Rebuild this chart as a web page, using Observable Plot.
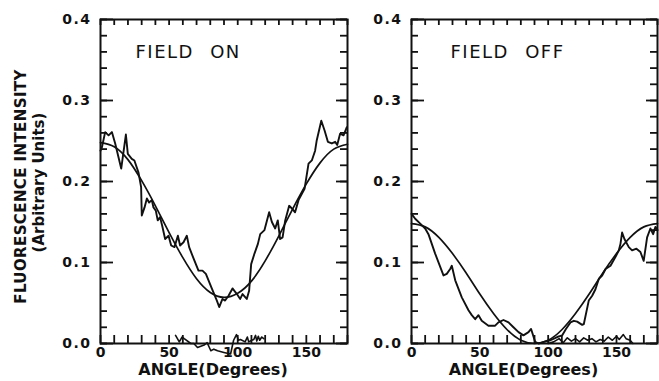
<!DOCTYPE html>
<html><head><meta charset="utf-8">
<script src="https://cdn.jsdelivr.net/npm/d3@7"></script>
<script src="https://cdn.jsdelivr.net/npm/@observablehq/plot@0.6"></script>
<style>
body{margin:0;background:#fff;}
#wrap{display:flex;width:659px;height:381px;overflow:hidden;}
</style></head><body><div id="wrap"></div>
<script>
// ---- data ----
const panelTitles = ["FIELD ON", "FIELD OFF"];
const xLabelTicks = [0, 50, 100, 150];
const yLabelTicks = [0, 0.1, 0.2, 0.3, 0.4];
const xMinorTicks = d3.range(0, 181, 10);
const yMinorTicks = d3.range(0, 0.401, 0.02);
const yMajorTicks = [0, 0.1, 0.2, 0.3, 0.4];

// FIELD ON : measured (noisy) trace
const onAngle = [0,1,3.4,5.9,8.3,10.7,15.1,18.5,19.9,22.8,24.7,27.7,29.6,30.1,32.1,33.8,35.4,37.4,38.6,40.3,41.7,43.4,45,47.1,49.6,51.5,53.9,56.4,58,60.5,62.9,64.6,67.8,71.4,74.3,76.8,81.1,84.8,86.5,88.9,90.8,93.3,96.2,99.4,101.8,103.5,106.6,108.3,109.8,112.2,114.7,116.4,119.5,122.9,124.9,127.3,129.2,130.9,132.7,134.6,137.5,139.9,141.8,144.3,148.7,151.6,154,156.4,157.6,160.9,163.3,165.7,168.6,171,172.5,174.6,177.1,179.5];
const onValue = [0.238,0.242,0.261,0.257,0.261,0.247,0.216,0.258,0.234,0.228,0.226,0.211,0.193,0.158,0.168,0.179,0.174,0.177,0.168,0.164,0.152,0.156,0.145,0.129,0.133,0.121,0.119,0.133,0.121,0.125,0.133,0.119,0.105,0.090,0.090,0.086,0.068,0.053,0.045,0.055,0.053,0.059,0.068,0.061,0.055,0.061,0.055,0.065,0.098,0.111,0.123,0.135,0.140,0.162,0.150,0.142,0.152,0.129,0.131,0.152,0.170,0.166,0.162,0.177,0.191,0.222,0.226,0.238,0.251,0.275,0.263,0.249,0.247,0.249,0.245,0.259,0.257,0.267];
// FIELD ON : fitted curve (every 10 degrees)
const fitAngle = d3.range(0, 181, 10);
const onFit = [0.248,0.243,0.227,0.201,0.170,0.137,0.106,0.080,0.063,0.057,0.062,0.077,0.102,0.133,0.166,0.197,0.223,0.240,0.246];
// FIELD ON : low baseline trace
const onLowAngle = [54.7,57.4,59.5,61,65.8,68,70.7,75.5,77.7,80.4,82.6,85.3,89.9,94.8,97,99.1,100.5,102,105.4,107,108,110.2,111.7,113,113.9,115,116,117.5,119];
const onLowValue = [0.010,0.002,0.008,0.006,0.000,0.000,-0.005,-0.002,0.001,-0.009,-0.007,-0.009,-0.011,-0.013,0.004,0.011,0.004,0.005,0.002,0.008,0.002,0.004,0.005,0.010,0.003,0.009,0.004,0.008,0.006];

// FIELD OFF : measured (noisy) trace
const offAngle = [0,2.7,6.4,10,12.4,17.3,23.4,25.8,28.3,29.5,32,36.8,41.7,44.1,46.6,49,51.4,56.3,61.2,63.6,67.3,71,74.6,78.3,81.9,85.6,87.5,90.5,93,96.8,101.7,106.6,110.2,113,116.3,118.8,121.2,124.9,126.1,129.7,132.2,134.6,137.1,139.5,142,145.6,149.3,151.7,152.9,154.1,155.8,159,161.4,164.6,167.5,169.9,172.4,174.8,176.8,178.5,180];
const offValue = [0.160,0.154,0.148,0.142,0.135,0.111,0.084,0.086,0.092,0.096,0.078,0.057,0.041,0.035,0.030,0.035,0.028,0.022,0.022,0.026,0.029,0.026,0.020,0.014,0.010,0.014,0.018,0.002,0.000,0.002,0.004,0.008,0.010,0.018,0.026,0.028,0.027,0.023,0.024,0.053,0.059,0.067,0.080,0.084,0.092,0.096,0.107,0.115,0.123,0.137,0.129,0.119,0.115,0.117,0.113,0.102,0.131,0.142,0.135,0.144,0.140];
// FIELD OFF : fitted curve
const offFit = [0.148,0.144,0.131,0.111,0.087,0.061,0.037,0.017,0.004,0.000,0.004,0.017,0.037,0.061,0.087,0.111,0.131,0.144,0.148];
// FIELD OFF : low baseline trace
const offLowAngle = [100,104,108,111,114,117,120,123,126,129,132,135,138,141,144,147,150,152,155,157,160,162];
const offLowValue = [0.000,0.002,0.006,0.001,0.007,0.003,0.006,0.002,0.007,0.004,0.006,0.002,0.005,0.003,0.008,0.004,0.009,0.005,0.011,0.006,0.004,0.000];

const yTitle = "FLUORESCENCE INTENSITY";
const ySubTitle = "(Arbitrary Units)";
const xTitle = "ANGLE(Degrees)";

// ---- drawing ----
const ink = "#111";
const FONT = "DejaVu Sans";
const H = 381, MT = 19, MB = 38;

function toRows(xs, ys) { return xs.map((x, i) => ({x, y: ys[i]})); }

function panel({width, marginLeft, marginRight, title, titleDx, noisy, fit, low, withYTitle}) {
  const pw = width - marginLeft - marginRight;
  const ph = H - MT - MB;
  const marks = [
    Plot.frame({stroke: ink, strokeWidth: 2}),
    // inward ticks on all sides
    Plot.tickX(xMinorTicks, {x: d => d, insetTop: ph - 8, stroke: ink, strokeWidth: 1.8}),
    Plot.tickX(xMinorTicks, {x: d => d, insetBottom: ph - 6, stroke: ink, strokeWidth: 1.8}),
    Plot.tickY(yMinorTicks, {y: d => d, insetRight: pw - 7, stroke: ink, strokeWidth: 1.8}),
    Plot.tickY(yMajorTicks, {y: d => d, insetRight: pw - 13, stroke: ink, strokeWidth: 1.8}),
    Plot.tickY(yMinorTicks, {y: d => d, insetLeft: pw - 7, stroke: ink, strokeWidth: 1.8}),
    Plot.tickY(yMajorTicks, {y: d => d, insetLeft: pw - 11, stroke: ink, strokeWidth: 1.8}),
    Plot.axisX({ticks: xLabelTicks, tickSize: 0, tickPadding: 4, label: null, fontSize: 14, fontWeight: "bold", fill: ink}),
    Plot.axisY({ticks: yLabelTicks, tickFormat: d => d.toFixed(1), tickSize: 0, tickPadding: 9, label: null, fontSize: 14, fontWeight: "bold", fill: ink}),
    Plot.line(toRows(fitAngle, fit), {x: "x", y: "y", curve: "natural", stroke: ink, strokeWidth: 1.7}),
    Plot.line(toRows(noisy[0], noisy[1]), {x: "x", y: "y", stroke: ink, strokeWidth: 1.9, strokeLinejoin: "round"}),
    Plot.line(toRows(low[0], low[1]), {x: "x", y: "y", stroke: ink, strokeWidth: 1.6}),
    Plot.text([title], {text: d => d, frameAnchor: "top-left", dx: titleDx, dy: 26, fontSize: 18, fill: ink}),
    Plot.text([xTitle], {text: d => d, frameAnchor: "bottom", textAnchor: "middle", lineAnchor: "middle", dx: -11, dy: 26, fontSize: 16, fontWeight: "bold", fill: ink})
  ];
  if (withYTitle) {
    marks.push(
      Plot.text([yTitle], {text: d => d, frameAnchor: "left", textAnchor: "middle", rotate: -90, lineAnchor: "middle", dx: -79, dy: 5, fontSize: 15, fontWeight: "bold", fill: ink}),
      Plot.text([ySubTitle], {text: d => d, frameAnchor: "left", textAnchor: "middle", rotate: -90, lineAnchor: "middle", dx: -61, dy: 1, fontSize: 15, fontWeight: "bold", fill: ink})
    );
  }
  const svg = Plot.plot({
    width, height: H,
    marginLeft, marginRight, marginTop: MT, marginBottom: MB,
    style: {fontFamily: FONT, background: "white", overflow: "visible"},
    x: {domain: [0, 180]},
    y: {domain: [0, 0.4]},
    marks
  });
  const s = d3.select(svg);
  s.selectAll("text").each(function() {
    const t = this.textContent;
    if (t === title) d3.select(this).style("letter-spacing", "1.5px").style("word-spacing", "9px");
    else if (t === yTitle || t === ySubTitle) {
      d3.select(this).style("letter-spacing", t === yTitle ? "0.4px" : "0px").attr("text-anchor", "middle");
      const tr = this.getAttribute("transform") || "";
      if (!/rotate/.test(tr)) this.setAttribute("transform", tr + " rotate(-90)");
    }
    else if (/^0\.\d$/.test(t)) d3.select(this).style("letter-spacing", "1.5px");
  });
  return svg;
}

const wrap = document.getElementById("wrap");
wrap.appendChild(panel({width: 350, marginLeft: 100, marginRight: 3, title: panelTitles[0], titleDx: 35,
  noisy: [onAngle, onValue], fit: onFit, low: [onLowAngle, onLowValue], withYTitle: true}));
wrap.appendChild(panel({width: 309, marginLeft: 61, marginRight: 2, title: panelTitles[1], titleDx: 39,
  noisy: [offAngle, offValue], fit: offFit, low: [offLowAngle, offLowValue], withYTitle: false}));
</script></body></html>
